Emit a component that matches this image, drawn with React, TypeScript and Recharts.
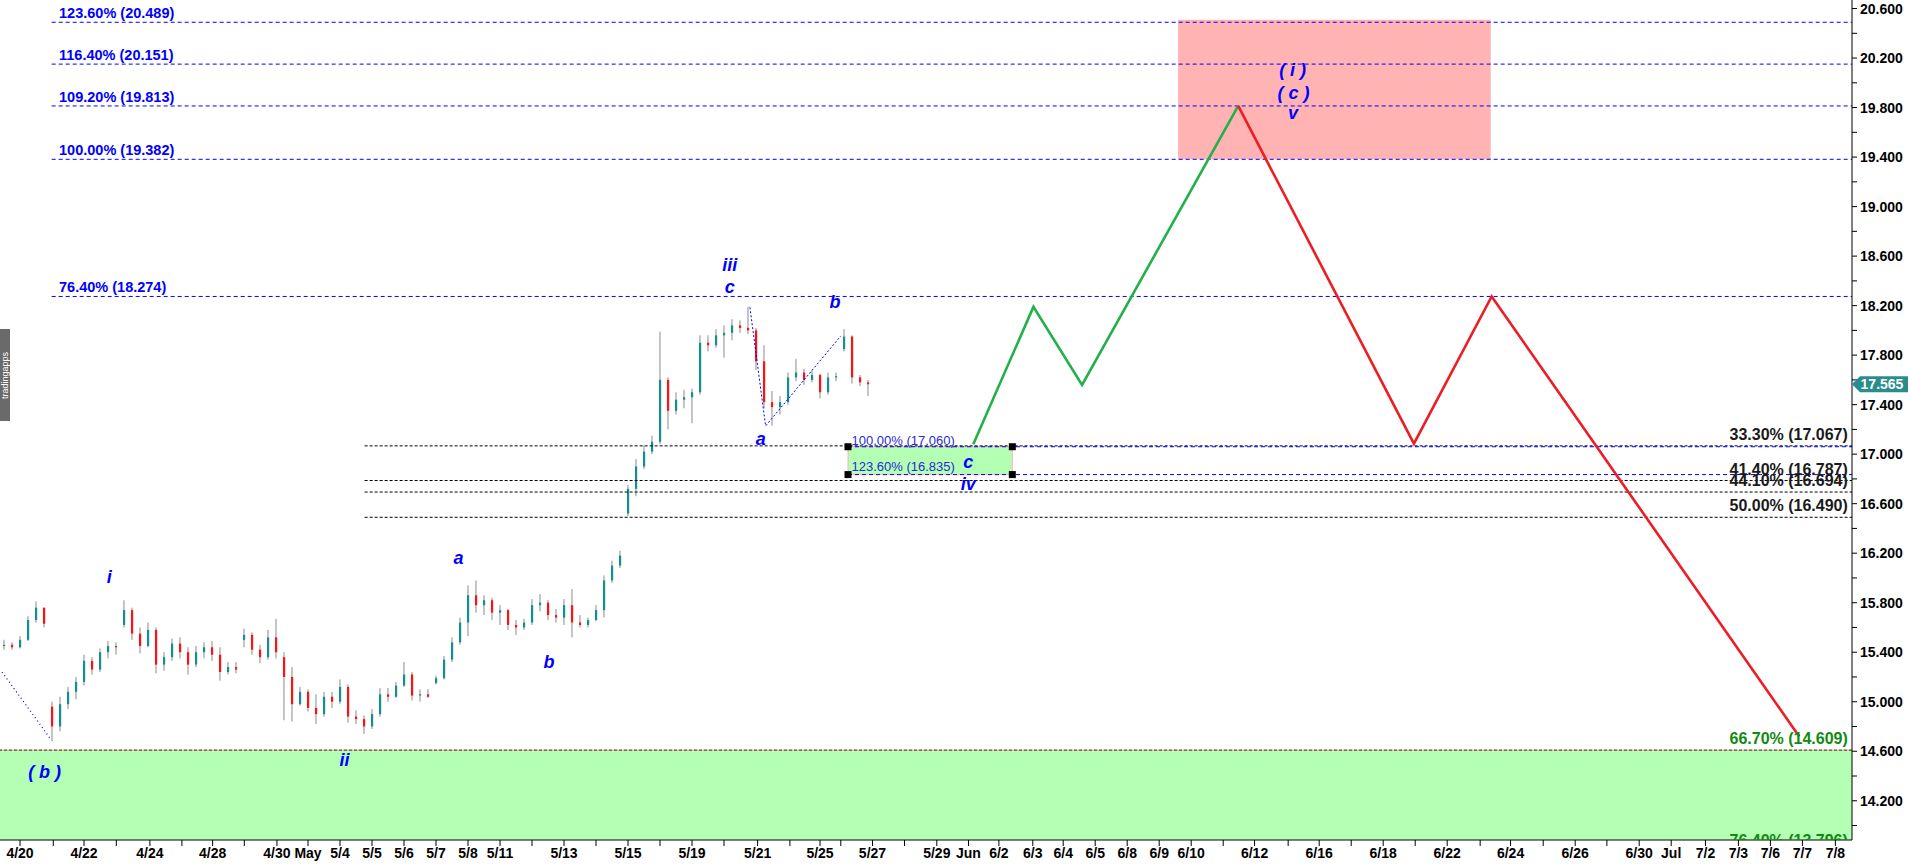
import React from 'react'
import {
  ComposedChart,
  Bar,
  Line,
  Scatter,
  XAxis,
  YAxis,
  ReferenceLine,
  ReferenceArea,
} from 'recharts'

// day position (trading days from 4/20), open, high, low, close
const candles: [number, number, number, number, number][] = [
  [-0.5, 15.45, 15.5, 15.42, 15.46], [-0.25, 15.46, 15.48, 15.42, 15.44], [0, 15.44, 15.53, 15.43, 15.5], [0.25, 15.5, 15.69, 15.49, 15.66],
  [0.5, 15.66, 15.81, 15.64, 15.76], [0.75, 15.76, 15.76, 15.6, 15.63], [1, 14.96, 15.0, 14.68, 14.8], [1.25, 14.8, 15.04, 14.76, 14.98],
  [1.5, 14.98, 15.12, 14.94, 15.08], [1.75, 15.08, 15.2, 15.02, 15.16], [2, 15.16, 15.38, 15.13, 15.33], [2.25, 15.33, 15.36, 15.22, 15.26],
  [2.5, 15.26, 15.43, 15.24, 15.4], [2.75, 15.4, 15.49, 15.35, 15.45], [3, 15.45, 15.48, 15.38, 15.44], [3.25, 15.62, 15.82, 15.6, 15.74],
  [3.5, 15.74, 15.76, 15.5, 15.55], [3.75, 15.55, 15.6, 15.39, 15.45], [4, 15.45, 15.64, 15.44, 15.58], [4.25, 15.58, 15.6, 15.23, 15.3],
  [4.5, 15.3, 15.4, 15.25, 15.36], [4.75, 15.36, 15.51, 15.33, 15.47], [5, 15.47, 15.52, 15.35, 15.4], [5.25, 15.4, 15.44, 15.22, 15.3],
  [5.5, 15.3, 15.45, 15.28, 15.4], [5.75, 15.4, 15.48, 15.35, 15.44], [6, 15.44, 15.49, 15.33, 15.38], [6.25, 15.38, 15.44, 15.17, 15.24],
  [6.5, 15.24, 15.32, 15.22, 15.28], [6.75, 15.28, 15.32, 15.23, 15.26], [7, 15.5, 15.59, 15.44, 15.54], [7.25, 15.54, 15.56, 15.38, 15.42],
  [7.5, 15.42, 15.46, 15.31, 15.36], [7.75, 15.36, 15.58, 15.34, 15.52], [8, 15.52, 15.67, 15.35, 15.4], [8.25, 15.36, 15.4, 14.85, 15.2],
  [8.5, 15.2, 15.28, 14.84, 14.98], [8.75, 14.98, 15.12, 14.97, 15.08], [9, 15.08, 15.1, 14.92, 14.95], [9.25, 14.95, 15.06, 14.82, 14.9],
  [9.5, 14.9, 15.08, 14.88, 15.04], [9.75, 15.04, 15.08, 14.95, 15.0], [10, 15.0, 15.18, 14.98, 15.12], [10.25, 15.12, 15.14, 14.83, 14.88],
  [10.5, 14.88, 14.93, 14.82, 14.86], [10.75, 14.86, 14.89, 14.74, 14.8], [11, 14.8, 14.94, 14.78, 14.9], [11.25, 14.9, 15.11, 14.88, 15.06],
  [11.5, 15.06, 15.11, 15.0, 15.04], [11.75, 15.04, 15.16, 15.03, 15.13], [12, 15.13, 15.32, 15.12, 15.22], [12.25, 15.22, 15.24, 15.01, 15.05],
  [12.5, 15.05, 15.1, 15.0, 15.06], [12.75, 15.06, 15.1, 15.03, 15.04], [13, 15.15, 15.21, 15.14, 15.19], [13.25, 15.19, 15.37, 15.18, 15.34],
  [13.5, 15.34, 15.52, 15.32, 15.48], [13.75, 15.48, 15.68, 15.46, 15.64], [14, 15.64, 15.94, 15.53, 15.86], [14.25, 15.86, 15.98, 15.72, 15.78],
  [14.5, 15.78, 15.86, 15.7, 15.82], [14.75, 15.82, 15.84, 15.66, 15.72], [15, 15.72, 15.78, 15.62, 15.74], [15.25, 15.74, 15.75, 15.58, 15.62],
  [15.5, 15.62, 15.66, 15.54, 15.6], [15.75, 15.6, 15.67, 15.58, 15.64], [16, 15.64, 15.83, 15.62, 15.78], [16.25, 15.78, 15.87, 15.73, 15.8],
  [16.5, 15.8, 15.82, 15.66, 15.7], [16.75, 15.7, 15.75, 15.64, 15.68], [17, 15.68, 15.83, 15.62, 15.78], [17.25, 15.78, 15.91, 15.52, 15.64],
  [17.5, 15.64, 15.7, 15.6, 15.62], [17.75, 15.62, 15.68, 15.6, 15.66], [18, 15.66, 15.78, 15.65, 15.74], [18.25, 15.74, 16.02, 15.68, 15.98],
  [18.5, 15.98, 16.14, 15.96, 16.1], [18.75, 16.1, 16.22, 16.08, 16.18], [19, 16.52, 16.75, 16.5, 16.72], [19.25, 16.72, 16.96, 16.66, 16.9],
  [19.5, 16.9, 17.07, 16.88, 17.02], [19.75, 17.02, 17.15, 17.0, 17.1], [20, 17.1, 17.99, 17.08, 17.6], [20.25, 17.6, 17.62, 17.2, 17.35],
  [20.5, 17.35, 17.5, 17.32, 17.44], [20.75, 17.44, 17.52, 17.37, 17.46], [21, 17.46, 17.53, 17.25, 17.5], [21.25, 17.5, 17.96, 17.48, 17.9],
  [21.5, 17.9, 17.96, 17.83, 17.88], [21.75, 17.88, 18.01, 17.86, 17.96], [22, 17.96, 18.04, 17.78, 17.98], [22.25, 17.98, 18.09, 17.92, 18.04],
  [22.5, 18.04, 18.08, 17.98, 18.02], [22.75, 18.02, 18.19, 17.97, 18.0], [23, 18.0, 18.02, 17.68, 17.75], [23.25, 17.75, 17.88, 17.37, 17.42],
  [23.5, 17.42, 17.51, 17.23, 17.38], [23.75, 17.38, 17.47, 17.32, 17.42], [24, 17.42, 17.66, 17.4, 17.62], [24.25, 17.62, 17.77, 17.59, 17.66],
  [24.5, 17.66, 17.69, 17.56, 17.6], [24.75, 17.6, 17.68, 17.58, 17.64], [25, 17.64, 17.65, 17.45, 17.5], [25.25, 17.5, 17.66, 17.48, 17.62],
  [25.5, 17.62, 17.66, 17.59, 17.63], [25.75, 17.85, 18.01, 17.83, 17.95], [26, 17.95, 17.96, 17.57, 17.62], [26.25, 17.62, 17.64, 17.55, 17.58],
  [26.5, 17.58, 17.6, 17.47, 17.565],
]

const xTicks = [0, 1.04, 2, 3.01, 4.06, 5.06, 6.02, 7.01, 8.03, 9, 10, 11, 12, 13, 14, 15, 16, 17, 18, 19, 20, 21, 22, 23.05, 24.06, 25, 25.65,
  26.64, 27.64, 28.65, 29.64, 30.59, 31.65, 32.6, 33.6, 34.6, 35.6, 36.6, 37.6, 38.58, 39.63, 40.6, 41.6, 42.6, 43.6, 44.6, 45.63, 46.58,
  47.6, 48.6, 49.59, 50.6, 51.6, 52.67, 53.7, 54.7, 55.7, 56.73]
const xLabels = ['4/20', '', '4/22', '', '4/24', '', '4/28', '', '4/30', 'May', '5/4', '5/5', '5/6', '5/7', '5/8', '5/11', '', '5/13', '',
  '5/15', '', '5/19', '', '5/21', '', '5/25', '', '5/27', '', '5/29', 'Jun', '6/2', '6/3', '6/4', '6/5', '6/8', '6/9', '6/10', '', '6/12',
  '', '6/16', '', '6/18', '', '6/22', '', '6/24', '', '6/26', '', '6/30', 'Jul', '7/2', '7/3', '7/6', '7/7', '7/8']

const yTicks = [14.0, 14.2, 14.4, 14.6, 14.8, 15.0, 15.2, 15.4, 15.6, 15.8, 16.0, 16.2, 16.4, 16.6, 16.8, 17.0, 17.2, 17.4, 17.6, 17.8,
  18.0, 18.2, 18.4, 18.6, 18.8, 19.0, 19.2, 19.4, 19.6, 19.8, 20.0, 20.2, 20.4, 20.6]
const yLabeled = [14.2, 14.6, 15.0, 15.4, 15.8, 16.2, 16.6, 17.0, 17.4, 17.8, 18.2, 18.6, 19.0, 19.4, 19.8, 20.2, 20.6]

// fibonacci extension levels (blue, left labels)
const fibPct = ['123.60%', '116.40%', '109.20%', '100.00%', '76.40%']
const fibVal = [20.489, 20.151, 19.813, 19.382, 18.274]
// retracement levels (black, right labels)
const retPct = ['33.30%', '41.40%', '44.10%', '50.00%']
const retVal = [17.067, 16.787, 16.694, 16.49]
// wave iv target box
const boxPct = ['100.00%', '123.60%']
const boxVal = [17.06, 16.835]
const extPct = '66.70%'
const extVal = 14.609
const ext2Pct = '76.40%'
const ext2Val = 13.796
const targetLow = 19.382
const targetHigh = 20.51

const greenPath = [
  { u: 29.79, v: 17.08 }, { u: 31.67, v: 18.19 }, { u: 33.19, v: 17.56 }, { u: 38.07, v: 19.813 },
]
const redPath = [
  { u: 38.07, v: 19.813 }, { u: 43.56, v: 17.085 }, { u: 45.99, v: 18.274 }, { u: 55.6, v: 14.72 },
]
const waveB = [{ u: -0.56, v: 15.24 }, { u: 0.98, v: 14.69 }]
const waveABC = [{ u: 22.81, v: 18.186 }, { u: 23.3, v: 17.228 }, { u: 25.65, v: 17.955 }]

const waveLabels = [
  { u: 0.77, v: 14.435, text: '( b )' },
  { u: 2.79, v: 16.01, text: 'i' },
  { u: 10.14, v: 14.53, text: 'ii' },
  { u: 13.7, v: 16.159, text: 'a' },
  { u: 16.53, v: 15.324, text: 'b' },
  { u: 22.18, v: 18.528, text: 'iii' },
  { u: 22.18, v: 18.353, text: 'c' },
  { u: 23.15, v: 17.12, text: 'a' },
  { u: 25.47, v: 18.232, text: 'b' },
  { u: 29.63, v: 16.937, text: 'c' },
  { u: 29.63, v: 16.759, text: 'iv' },
  { u: 39.77, v: 20.103, text: '( i )' },
  { u: 39.8, v: 19.915, text: '( c )' },
  { u: 39.78, v: 19.758, text: 'v' },
]

const X_MIN = -0.625
const X_MAX = 57.25
const Y_MIN = 13.883
const Y_MAX = 20.669
const FIB_START = 0.99
const RET_START = 10.77
const BOX_LEFT = 25.875
const BOX_RIGHT = 31.01
const LABEL_RIGHT = 57.12

const FONT = '"Liberation Sans", Arial, sans-serif'
const BLUE = '#0000ff'
const TEAL = '#138f8f'
const RED = '#ff1010'

const candleData = candles.map(([u, open, high, low, close]) => ({ u, open, high, low, close }))
const lastClose = candles[candles.length - 1][4]

const annotations = [
  ...waveLabels.map((w) => ({ ...w, kind: 'wave' })),
  ...fibVal.map((v, i) => ({ u: FIB_START + 0.23, v, text: `${fibPct[i]} (${v.toFixed(3)})`, kind: 'fib' })),
  ...retVal.map((v, i) => ({ u: LABEL_RIGHT, v, text: `${retPct[i]} (${v.toFixed(3)})`, kind: 'ret' })),
  { u: LABEL_RIGHT, v: extVal, text: `${extPct} (${extVal.toFixed(3)})`, kind: 'ext' },
  // this level lies below the visible range: its label is anchored on the bottom edge and cut by it
  { u: LABEL_RIGHT, v: Y_MIN, text: `${ext2Pct} (${ext2Val.toFixed(3)})`, kind: 'cut' },
  ...boxVal.map((v, i) => ({ u: BOX_LEFT + 0.11, v, text: `${boxPct[i]} (${v.toFixed(3)})`, kind: i === 0 ? 'box0' : 'box1' })),
]

const annStyle: Record<string, any> = {
  wave: { fill: BLUE, fontSize: 18, fontWeight: 'bold', fontStyle: 'italic', anchor: 'middle', dy: 6 },
  fib: { fill: BLUE, fontSize: 14.5, fontWeight: 'bold', fontStyle: 'normal', anchor: 'start', dy: -4 },
  ret: { fill: '#1a1a1a', fontSize: 16, fontWeight: 'bold', fontStyle: 'normal', anchor: 'end', dy: -6 },
  ext: { fill: '#118a11', fontSize: 16, fontWeight: 'bold', fontStyle: 'normal', anchor: 'end', dy: -6 },
  cut: { fill: '#118a11', fontSize: 16, fontWeight: 'bold', fontStyle: 'normal', anchor: 'end', dy: 6 },
  box0: { fill: '#2a2ad8', fontSize: 13, fontWeight: 'normal', fontStyle: 'normal', anchor: 'start', dy: -2 },
  box1: { fill: '#2a2ad8', fontSize: 13, fontWeight: 'normal', fontStyle: 'normal', anchor: 'start', dy: -4 },
}

const corners = [
  { u: BOX_LEFT, v: boxVal[0] }, { u: BOX_RIGHT, v: boxVal[0] },
  { u: BOX_LEFT, v: boxVal[1] }, { u: BOX_RIGHT, v: boxVal[1] },
]

const Candle = (props: any) => {
  const { x, y, width, height, payload } = props
  if (x == null || !payload) return null
  const { open, close, high, low } = payload
  const top = Math.min(y, y + height)
  const h = Math.abs(height)
  const ppu = high === low ? 0 : h / (high - low)
  const cx = x + width / 2
  const yO = top + (high - open) * ppu
  const yC = top + (high - close) * ppu
  const up = close >= open
  return (
    <g>
      <line x1={cx} x2={cx} y1={top} y2={top + h} stroke="#8a8a8a" strokeWidth={1} />
      <rect x={cx - 1} y={Math.min(yO, yC)} width={2.2} height={Math.max(1, Math.abs(yC - yO))} fill={up ? TEAL : RED} />
    </g>
  )
}

const Annotation = (props: any) => {
  const { cx, cy, payload } = props
  if (cx == null || !payload) return null
  const s = annStyle[payload.kind]
  const t = (
    <text
      x={cx}
      y={cy}
      dy={s.dy}
      textAnchor={s.anchor}
      fill={s.fill}
      fontSize={s.fontSize}
      fontWeight={s.fontWeight}
      fontStyle={s.fontStyle}
      fontFamily={FONT}
      style={{ whiteSpace: 'pre' }}
    >
      {payload.text}
    </text>
  )
  if (payload.kind !== 'cut') return t
  return (
    <g>
      <defs>
        <clipPath id="cutLabelClip">
          <rect x={cx - 200} y={cy - 30} width={210} height={30} />
        </clipPath>
      </defs>
      <g clipPath="url(#cutLabelClip)">{t}</g>
    </g>
  )
}

const Corner = (props: any) => {
  const { cx, cy } = props
  if (cx == null) return null
  return <rect x={cx - 3.5} y={cy - 3.5} width={7} height={7} fill="#000" />
}

const PriceTag = (props: any) => {
  const { cx, cy, payload } = props
  if (cx == null) return null
  return (
    <g>
      <polygon
        points={`${cx},${cy} ${cx + 8},${cy - 8} ${cx + 56},${cy - 8} ${cx + 56},${cy + 8} ${cx + 8},${cy + 8}`}
        fill="#2a8c8c"
      />
      <text x={cx + 30} y={cy} dy={5} textAnchor="middle" fill="#fff" fontSize={14} fontWeight="bold" fontFamily={FONT}>
        {payload.v.toFixed(3)}
      </text>
    </g>
  )
}

const xFmt = (v: number) => {
  const i = xTicks.findIndex((t) => Math.abs(t - v) < 1e-6)
  return i >= 0 ? xLabels[i] : ''
}
const yFmt = (v: number) => (yLabeled.some((t) => Math.abs(t - v) < 1e-6) ? v.toFixed(3) : '')

const tickStyle = { fill: '#000', fontSize: 14, fontWeight: 'bold', fontFamily: FONT }

export default function App() {
  return (
    <div style={{ position: 'absolute', left: 0, top: 0, width: 1911, height: 866, background: '#fff' }}>
      <ComposedChart width={1911} height={866} data={candleData} margin={{ top: 0, right: 0, bottom: 0, left: 0 }}>
        <XAxis
          dataKey="u"
          type="number"
          domain={[X_MIN, X_MAX]}
          ticks={xTicks}
          interval={0}
          tickFormatter={xFmt}
          height={26}
          tickSize={6}
          tickMargin={2}
          tick={tickStyle}
          axisLine={{ stroke: '#000' }}
          tickLine={{ stroke: '#000' }}
        />
        <YAxis
          orientation="right"
          type="number"
          domain={[Y_MIN, Y_MAX]}
          ticks={yTicks}
          interval={0}
          tickFormatter={yFmt}
          width={59}
          tickSize={5}
          tickMargin={3}
          tick={tickStyle}
          axisLine={{ stroke: '#000' }}
          tickLine={{ stroke: '#000' }}
        />

        <ReferenceArea x1={X_MIN} x2={X_MAX} y1={Y_MIN} y2={extVal} fill="#b3ffb3" fillOpacity={1} stroke="none" />
        <ReferenceArea x1={36.19} x2={45.96} y1={targetLow} y2={targetHigh} fill="#ffb3b3" fillOpacity={1} stroke="none" />
        <ReferenceArea x1={BOX_LEFT} x2={BOX_RIGHT} y1={boxVal[1]} y2={boxVal[0]} fill="#b3ffb3" fillOpacity={1} stroke="#ffb0b0" />

        <ReferenceLine y={extVal} stroke="#ff9a9a" strokeWidth={1} />
        <ReferenceLine y={extVal} stroke="#1e4d1e" strokeDasharray="3 2" strokeWidth={1} />
        {retVal.map((v) => (
          <ReferenceLine key={`r${v}`} segment={[{ x: RET_START, y: v }, { x: X_MAX, y: v }]} stroke="#000" strokeDasharray="3 2" />
        ))}
        {fibVal.map((v) => (
          <ReferenceLine key={`f${v}`} segment={[{ x: FIB_START, y: v }, { x: X_MAX, y: v }]} stroke={BLUE} strokeDasharray="4 3" />
        ))}
        {boxVal.map((v) => (
          <ReferenceLine key={`b${v}`} segment={[{ x: BOX_LEFT, y: v }, { x: X_MAX, y: v }]} stroke={BLUE} strokeDasharray="4 3" />
        ))}

        <Bar dataKey={(d: any) => [d.low, d.high]} barSize={3} shape={<Candle />} isAnimationActive={false} />

        <Line data={waveB} dataKey="v" stroke={BLUE} strokeDasharray="1 3" strokeWidth={1.2} dot={false} isAnimationActive={false} />
        <Line data={waveABC} dataKey="v" stroke={BLUE} strokeDasharray="2 2" strokeWidth={1} dot={false} isAnimationActive={false} />
        <Line data={greenPath} dataKey="v" stroke="#22b04a" strokeWidth={2.6} dot={false} isAnimationActive={false} />
        <Line data={redPath} dataKey="v" stroke="#ee1c25" strokeWidth={2.6} dot={false} isAnimationActive={false} />

        <Scatter data={corners} dataKey="v" shape={<Corner />} isAnimationActive={false} />
        <Scatter data={annotations} dataKey="v" shape={<Annotation />} isAnimationActive={false} />
        <Scatter data={[{ u: X_MAX, v: lastClose }]} dataKey="v" shape={<PriceTag />} isAnimationActive={false} />
      </ComposedChart>
      <div
        style={{
          position: 'absolute', left: 0, top: 329, width: 10, height: 92, background: '#6a6a6a',
          color: '#fff', fontSize: 9, fontFamily: FONT, writingMode: 'vertical-rl', transform: 'rotate(180deg)',
          textAlign: 'center', lineHeight: '10px', overflow: 'hidden',
        }}
      >
        tradingapps
      </div>
    </div>
  )
}
